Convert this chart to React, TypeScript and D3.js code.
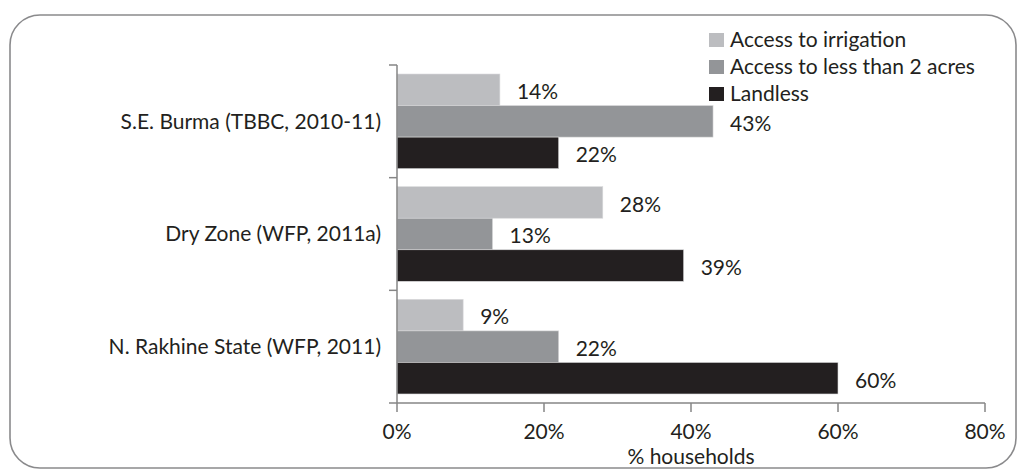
import React from "react";
import * as d3 from "d3";

const categories = ["S.E. Burma (TBBC, 2010-11)", "Dry Zone (WFP, 2011a)", "N. Rakhine State (WFP, 2011)"];
const seriesNames = ["Access to irrigation", "Access to less than 2 acres", "Landless"];
const seriesColors = ["#bcbdc0", "#939598", "#231f20"];
const irrigation = [14, 28, 9];
const lessThan2 = [43, 13, 22];
const landless = [22, 39, 60];
const xTicks = [0, 20, 40, 60, 80];

const W = 1019, H = 471;
const FONT = "Lato, 'Open Sans', sans-serif";

export default function App() {
  const x = d3.scaleLinear().domain([0, 80]).range([397, 985]);
  const y = d3.scaleBand<string>().domain(categories).range([65, 403]).paddingInner(0.16).paddingOuter(0.08);
  const inner = d3.scaleBand<number>().domain([0, 1, 2]).range([0, y.bandwidth()]);
  const series = [irrigation, lessThan2, landless];
  const step = (403 - 65) / categories.length;
  const fs = 21;
  return (
    <svg width={W} height={H} style={{ position: "absolute", left: 0, top: 0 }}>
      <rect x={10} y={15} width={1006} height={453} rx={30} ry={30} fill="#fff" stroke="#8a8a8c" strokeWidth={1.6} />
      {series.map((vals, si) =>
        vals.map((v, ci) => (
          <rect key={`${si}-${ci}`} x={x(0)} y={(y(categories[ci]) as number) + (inner(si) as number)}
            width={x(v) - x(0)} height={inner.bandwidth()} fill={seriesColors[si]} stroke="#d9d9db" strokeWidth={0.6} />
        ))
      )}
      {series.map((vals, si) =>
        vals.map((v, ci) => (
          <text key={`l${si}-${ci}`} x={x(v) + 17} y={(y(categories[ci]) as number) + (inner(si) as number) + inner.bandwidth() / 2 + 2}
            dy="0.35em" fontFamily={FONT} fontSize={fs} fill="#231f20">{v}%</text>
        ))
      )}
      {/* y axis */}
      <line x1={397} x2={397} y1={65} y2={403} stroke="#868686" strokeWidth={1.5} />
      {d3.range(categories.length + 1).map(i => (
        <line key={`yt${i}`} x1={389} x2={397} y1={65 + i * step} y2={65 + i * step} stroke="#868686" strokeWidth={1.5} />
      ))}
      {categories.map(c => (
        <text key={c} x={381} y={(y(c) as number) + y.bandwidth() / 2} dy="0.35em" textAnchor="end"
          fontFamily={FONT} fontSize={fs} fill="#231f20">{c}</text>
      ))}
      {/* x axis */}
      <line x1={397} x2={985} y1={403} y2={403} stroke="#868686" strokeWidth={1.5} />
      {xTicks.map(t => (
        <g key={`xt${t}`}>
          <line x1={x(t)} x2={x(t)} y1={403} y2={412} stroke="#868686" strokeWidth={1.5} />
          <text x={x(t)} y={439} textAnchor="middle" fontFamily={FONT} fontSize={fs} fill="#231f20">{t}%</text>
        </g>
      ))}
      <text x={691} y={464} textAnchor="middle" fontFamily={FONT} fontSize={fs} fill="#231f20">% households</text>
      {/* legend */}
      {seriesNames.map((n, i) => (
        <g key={n}>
          <rect x={709} y={33 + i * 27} width={15} height={14} fill={seriesColors[i]} />
          <text x={730} y={47 + i * 27} fontFamily={FONT} fontSize={fs} fill="#231f20">{n}</text>
        </g>
      ))}
    </svg>
  );
}
